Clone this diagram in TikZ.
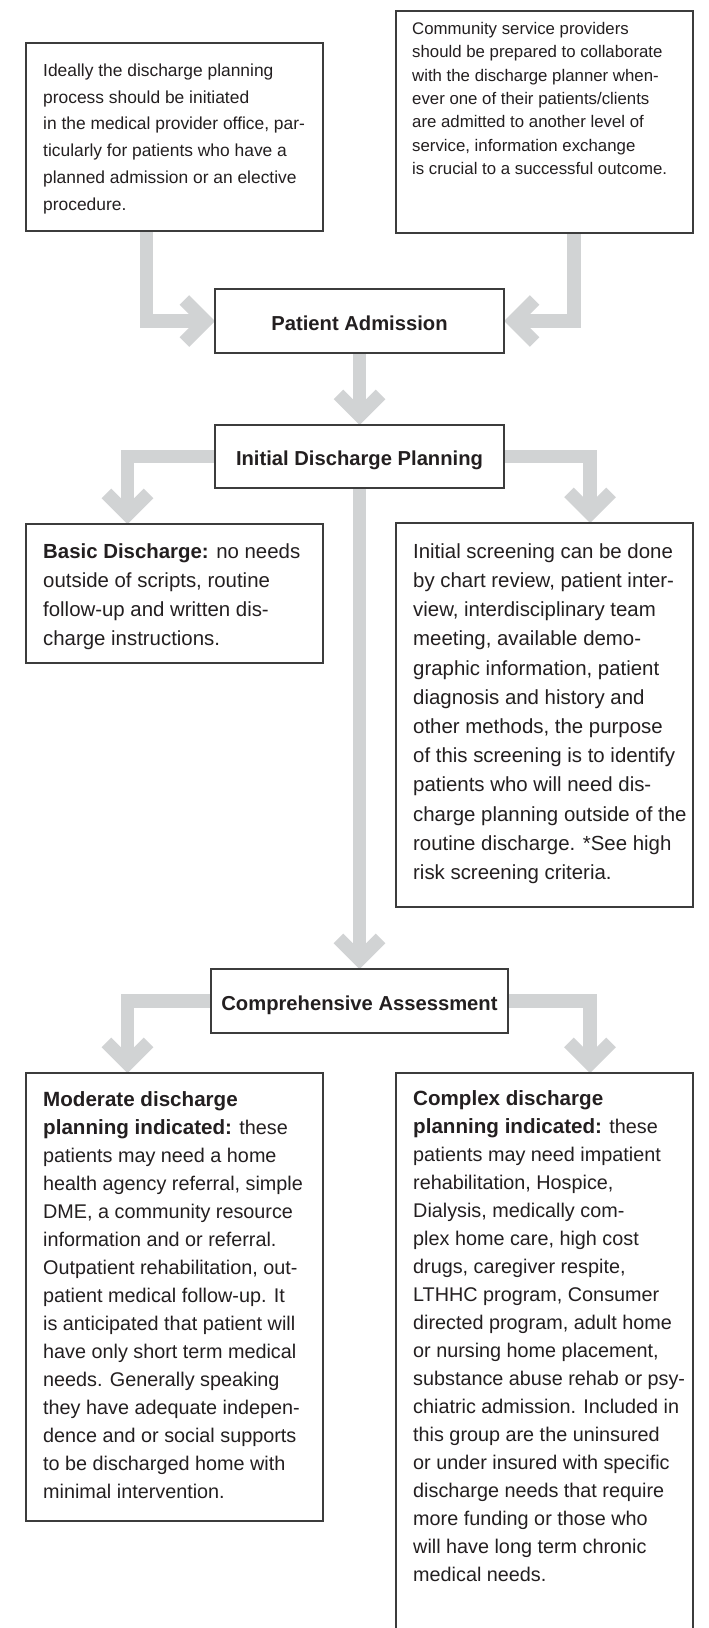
\documentclass[tikz,border=0pt]{standalone}
\usepackage{fontspec}
\setmainfont{Liberation Sans}
\usetikzlibrary{backgrounds}
\definecolor{bargray}{RGB}{209,211,212}
\definecolor{ink}{RGB}{35,31,32}
\definecolor{edge}{RGB}{60,60,60}
\newcommand{\hbm}[1]{{\fontsize{20.6}{28}\selectfont\bfseries #1}}
\tikzset{
  box/.style={draw=edge, line width=1.4pt, rectangle, inner sep=0pt, outer sep=0pt, anchor=north west, minimum width=297pt},
  title/.style={draw=edge, line width=1.4pt, rectangle, inner sep=0pt, outer sep=0pt, anchor=center,
    font=\fontsize{20.2}{24}\selectfont\bfseries, text=ink, text height=18pt, text depth=0pt},
  txt/.style={inner sep=0pt, anchor=north west, align=left, text=ink},
  topfont/.style={font=\fontsize{17.4}{26.8}\selectfont},
  topfontb/.style={font=\fontsize{16.8}{23.4}\selectfont},
  midfont/.style={font=\fontsize{20.4}{29.2}\selectfont},
  lowfont/.style={font=\fontsize{19.8}{28}\selectfont},
  bar/.style={draw=bargray, line width=13.5pt, shorten >=9.55pt},
  chev/.pic={\draw[draw=bargray, line width=13.5pt, miter limit=10] (-21,-30.55) -- (0,-9.55) -- (21,-30.55);}
}
\begin{document}
\begin{tikzpicture}[x=1pt, y=-1pt]
\useasboundingbox (0,0) rectangle (709,1628);
\clip (0,0) rectangle (709,1628);

% boxes
\node[box, minimum height=188pt] (tl) at (26,43) {};
\node[box, minimum height=222pt] (tr) at (396,11) {};
\node[title, minimum width=289pt, minimum height=64pt] (pa) at (359.5,321) {Patient Admission};
\node[title, minimum width=289pt, minimum height=63pt] (init) at (359.5,456.5) {Initial Discharge Planning};
\node[box, minimum height=139pt] (basic) at (26,524) {};
\node[box, minimum height=384pt] (scr) at (396,523) {};
\node[title, minimum width=297pt, minimum height=64pt] (comp) at (359.5,1001) {Comprehensive Assessment};
\node[box, minimum height=448pt] (mod) at (26,1073) {};
\node[box, minimum height=600pt] (cpx) at (396,1073) {};

% texts
\node[txt, topfont] (tlt) at (43,60) {\rule{0pt}{16pt}Ideally the discharge planning\\
process should be initiated\\
in the medical provider office, par-\\
ticularly for patients who have a\\
planned admission or an elective\\
procedure.};

\node[txt, topfontb] (trt) at (412,18) {\rule{0pt}{16pt}Community service providers\\
should be prepared to collaborate\\
with the discharge planner when-\\
ever one of their patients/clients\\
are admitted to another level of\\
service, information exchange\\
is crucial to a successful outcome.};

\node[txt, midfont] (basict) at (43,538) {\rule{0pt}{20pt}\textbf{Basic Discharge:} no needs\\
outside of scripts, routine\\
follow-up and written dis-\\
charge instructions.};

\node[txt, midfont] (scrt) at (413,538) {\rule{0pt}{20pt}Initial screening can be done\\
by chart review, patient inter-\\
view, interdisciplinary team\\
meeting, available demo-\\
graphic information, patient\\
diagnosis and history and\\
other methods, the purpose\\
of this screening is to identify\\
patients who will need dis-\\
charge planning outside of the\\
routine discharge. *See high\\
risk screening criteria.};

\node[txt, lowfont] (modt) at (43,1086) {\rule{0pt}{20pt}\hbm{Moderate discharge}\\
\hbm{planning indicated:} these\\
patients may need a home\\
health agency referral, simple\\
DME, a community resource\\
information and or referral.\\
Outpatient rehabilitation, out-\\
patient medical follow-up. It\\
is anticipated that patient will\\
have only short term medical\\
needs. Generally speaking\\
they have adequate indepen-\\
dence and or social supports\\
to be discharged home with\\
minimal intervention.};

\node[txt, lowfont] (cpxt) at (413,1085) {\rule{0pt}{20pt}\hbm{Complex discharge}\\
\hbm{planning indicated:} these\\
patients may need impatient\\
rehabilitation, Hospice,\\
Dialysis, medically com-\\
plex home care, high cost\\
drugs, caregiver respite,\\
LTHHC program, Consumer\\
directed program, adult home\\
or nursing home placement,\\
substance abuse rehab or psy-\\
chiatric admission. Included in\\
this group are the uninsured\\
or under insured with specific\\
discharge needs that require\\
more funding or those who\\
will have long term chronic\\
medical needs.};

% connectors
\begin{scope}[on background layer]
\fill[white] (0,0) rectangle (709,1628);
\draw[bar] ([xshift=-28pt]tl.south) |- (pa.west);
\pic[rotate=90] at (pa.west) {chev};
\draw[bar] ([xshift=29.5pt]tr.south) |- (pa.east);
\pic[rotate=-90] at (pa.east) {chev};
\draw[bar] (pa.south) -- (init.north);
\pic at (init.north) {chev};
\draw[bar] (init.west) -| ([xshift=-47pt]basic.north);
\pic at ([xshift=-47pt]basic.north) {chev};
\draw[bar] (init.east) -| ([xshift=45.5pt]scr.north);
\pic at ([xshift=45.5pt]scr.north) {chev};
\draw[bar] (init.south) -- (comp.north);
\pic at (comp.north) {chev};
\draw[bar] (comp.west) -| ([xshift=-47pt]mod.north);
\pic at ([xshift=-47pt]mod.north) {chev};
\draw[bar] (comp.east) -| ([xshift=45.5pt]cpx.north);
\pic at ([xshift=45.5pt]cpx.north) {chev};
\end{scope}
\end{tikzpicture}
\end{document}
